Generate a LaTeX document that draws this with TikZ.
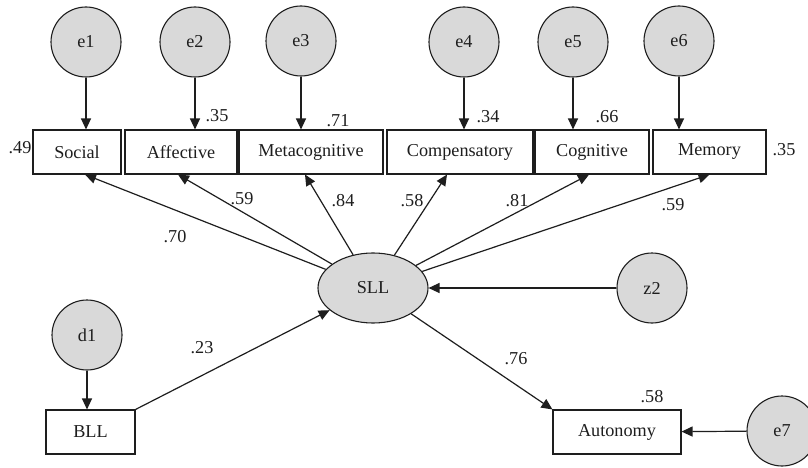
\documentclass[tikz,border=0pt]{standalone}
\usepackage{fontspec}
\setmainfont{Liberation Serif}
\usetikzlibrary{arrows.meta,shapes.geometric}
\definecolor{latfill}{RGB}{217,217,217}
\definecolor{inkc}{RGB}{30,30,30}
\tikzset{
  every node/.style={font=\fontsize{18.2}{21}\selectfont, text=inkc},
  obsbox/.style={draw=inkc, line width=1.1pt, rectangle, minimum height=44pt, inner sep=2pt},
  errcirc/.style={draw=inkc, line width=1.1pt, circle, fill=latfill, minimum size=70pt, inner sep=0pt},
  latell/.style={draw=inkc, line width=1.1pt, ellipse, fill=latfill, minimum width=110pt, minimum height=70pt, inner sep=0pt},
  pth/.style={draw=inkc, line width=1.2pt, -{Triangle[length=11pt,width=10pt]}},
  coef/.style={inner sep=0pt}
}
\begin{document}
\begin{tikzpicture}[x=1pt,y=-1pt]
\useasboundingbox (0,0) rectangle (808,468);
\clip (0,0) rectangle (808,468);
\fill[white] (0,0) rectangle (808,468);
% boxes
\node[obsbox, minimum width=88pt] (Social) at (77,152) {Social};
\node[obsbox, minimum width=112pt] (Affective) at (181,152) {Affective};
\node[obsbox, minimum width=144pt] (Meta) at (311,152) {Metacognitive};
\node[obsbox, minimum width=146pt] (Comp) at (460,152) {Compensatory};
\node[obsbox, minimum width=114pt] (Cog) at (592,152) {Cognitive};
\node[obsbox, minimum width=113pt] (Mem) at (709.5,152) {Memory};
\node[obsbox, minimum width=89pt] (BLL) at (90.5,432) {BLL};
\node[obsbox, minimum width=128pt] (Auto) at (617,432) {Autonomy};
% circles
\node[errcirc] (e1) at (86,42) {e1};
\node[errcirc] (e2) at (195,42) {e2};
\node[errcirc] (e3) at (301,41) {e3};
\node[errcirc] (e4) at (464,42) {e4};
\node[errcirc] (e5) at (573,42) {e5};
\node[errcirc] (e6) at (679,41) {e6};
\node[errcirc] (z2) at (652,288) {z2};
\node[errcirc] (d1) at (87,335) {d1};
\node[errcirc] (e7) at (782,431) {e7};
\node[latell] (SLL) at (373,288) {SLL};
% error arrows
\draw[pth] (e1) -- (e1 |- Social.north);
\draw[pth] (e2) -- (e2 |- Affective.north);
\draw[pth] (e3) -- (e3 |- Meta.north);
\draw[pth] (e4) -- (e4 |- Comp.north);
\draw[pth] (e5) -- (e5 |- Cog.north);
\draw[pth] (e6) -- (e6 |- Mem.north);
\draw[pth] (d1) -- (d1 |- BLL.north);
\draw[pth] (z2) -- (SLL);
\draw[pth] (e7) -- (Auto);
% loadings
\draw[pth] (SLL) -- ([xshift=8pt]Social.south);
\draw[pth] (SLL) -- ([xshift=-3pt]Affective.south);
\draw[pth] (SLL) -- ([xshift=-6pt]Meta.south);
\draw[pth] (SLL) -- ([xshift=-13pt]Comp.south);
\draw[pth] (SLL) -- ([xshift=-3pt]Cog.south);
\draw[pth] (SLL) -- (Mem.south);
\draw[pth] (BLL.north east) -- (SLL);
\draw[pth] (SLL) -- (Auto.north west);
% coefficients
\node[coef] (c49) at (20,148) {.49};
\node[coef] (c35a) at (217,116) {.35};
\node[coef] (c71) at (338,121) {.71};
\node[coef] (c34) at (488,117) {.34};
\node[coef] (c66) at (607,117) {.66};
\node[coef] (c35b) at (784,150) {.35};
\node[coef] (c70) at (175,237) {.70};
\node[coef] (c59a) at (242,199) {.59};
\node[coef] (c84) at (343,201) {.84};
\node[coef] (c58a) at (412,201) {.58};
\node[coef] (c81) at (517,201) {.81};
\node[coef] (c59b) at (673,205) {.59};
\node[coef] (c23) at (202,348) {.23};
\node[coef] (c76) at (516,359) {.76};
\node[coef] (c58b) at (652,397) {.58};
\end{tikzpicture}
\end{document}
